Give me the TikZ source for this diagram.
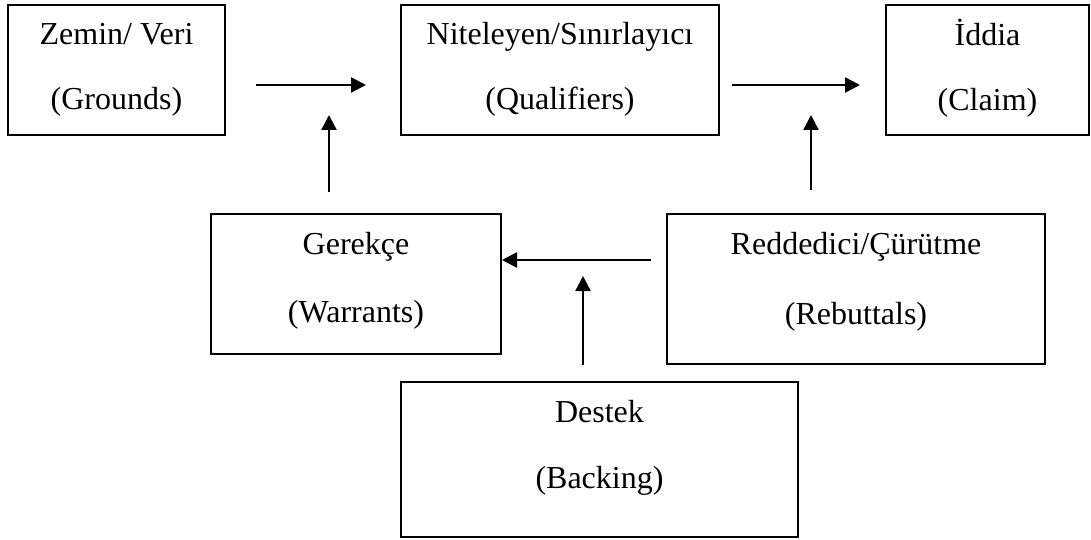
\documentclass[tikz,border=0pt]{standalone}
\usepackage{fontspec}
\setmainfont{Liberation Serif}
\usetikzlibrary{arrows.meta}
\newcommand{\twolines}[3]{\rule{0pt}{25pt}#1\\#2\rule[-#3pt]{0pt}{#3pt}}
\begin{document}
\begin{tikzpicture}[x=1pt,y=-1pt,
  box/.style={draw, line width=1.6pt, inner sep=0pt, align=center},
  arr/.style={line width=2.4pt, -{Triangle[length=15pt,width=15pt]}}]
\useasboundingbox (0,0) rectangle (1091,540);
% boxes
\node[box, minimum width=217pt, minimum height=130pt, font=\fontsize{32}{65}\selectfont] (z) at (116.5,70) {\twolines{Zemin/ Veri}{(Grounds)}{10}};
\node[box, minimum width=318pt, minimum height=130pt, font=\fontsize{32}{65}\selectfont] (n) at (560,70) {\twolines{Niteleyen/Sınırlayıcı}{(Qualifiers)}{10}};
\node[box, minimum width=203pt, minimum height=130pt, font=\fontsize{32}{65}\selectfont] (c) at (987.5,70) {\twolines{İddia}{(Claim)}{10}};
\node[box, minimum width=290pt, minimum height=140pt, font=\fontsize{32}{68}\selectfont] (g) at (356,284) {\twolines{Gerekçe}{(Warrants)}{17}};
\node[box, minimum width=378pt, minimum height=150pt, font=\fontsize{32}{70}\selectfont] (r) at (856,289) {\twolines{Reddedici/Çürütme}{(Rebuttals)}{25}};
\node[box, minimum width=397pt, minimum height=155pt, font=\fontsize{32}{66}\selectfont] (d) at (599.5,459.5) {\twolines{Destek}{(Backing)}{34}};
% arrow end points
\coordinate (a1s) at (256,85);  \coordinate (a1e) at (366,85);
\coordinate (a2s) at (732,85);  \coordinate (a2e) at (860,85);
\coordinate (a3s) at (329,192); \coordinate (a3e) at (329,115);
\coordinate (a4s) at (811,190); \coordinate (a4e) at (811,115);
\coordinate (a5s) at (651,260); \coordinate (a5e) at (502,260);
\coordinate (a6s) at (583,365); \coordinate (a6e) at (583,276);
\draw[arr] (a1s) -- (a1e);
\draw[arr] (a2s) -- (a2e);
\draw[arr] (a3s) -- (a3e);
\draw[arr] (a4s) -- (a4e);
\draw[arr] (a5s) -- (a5e);
\draw[arr] (a6s) -- (a6e);
\end{tikzpicture}
\end{document}
